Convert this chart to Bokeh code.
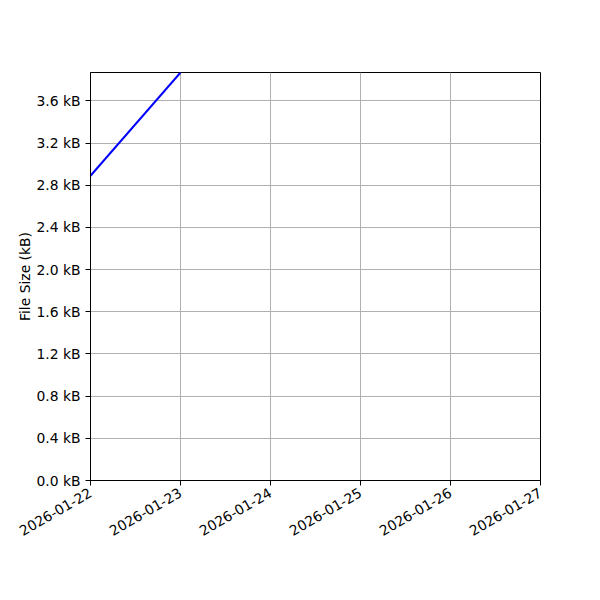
from datetime import datetime
from math import pi

from bokeh.embed import file_html
from bokeh.models import (ColumnDataSource, DatetimeTickFormatter, FixedTicker,
                          PrintfTickFormatter, Range1d)
from bokeh.plotting import figure
from bokeh.resources import INLINE

# data
dates = [datetime(2026, 1, 22), datetime(2026, 1, 23)]
sizes_kb = [2.89, 3.87]
day_ticks = [datetime(2026, 1, d) for d in range(22, 28)]
y_ticks = [0.0, 0.4, 0.8, 1.2, 1.6, 2.0, 2.4, 2.8, 3.2, 3.6]

source = ColumnDataSource(data=dict(date=dates, size=sizes_kb))

p = figure(width=584, height=584, x_axis_type='datetime',
           output_backend="svg", toolbar_location=None,
           x_range=Range1d(day_ticks[0], day_ticks[-1]),
           y_range=Range1d(0, max(sizes_kb)),
           min_border_left=90, min_border_right=44,
           min_border_top=72, min_border_bottom=104)

p.line('date', 'size', source=source, line_color='blue', line_width=2)

p.outline_line_color = 'black'
p.outline_line_width = 1
p.background_fill_color = 'white'
p.border_fill_color = 'white'

ms = [d.timestamp() * 1000 for d in day_ticks]
p.xaxis.ticker = FixedTicker(ticks=ms)
p.xaxis.formatter = DatetimeTickFormatter(days="%Y-%m-%d", months="%Y-%m-%d",
                                          hours="%Y-%m-%d")
p.xaxis.major_label_orientation = pi / 6
p.xaxis.major_label_standoff = 6
p.yaxis.ticker = FixedTicker(ticks=y_ticks)
p.yaxis.formatter = PrintfTickFormatter(format="%.1f kB")
p.yaxis.axis_label = 'File Size (kB)'
p.yaxis.axis_label_standoff = 0

for ax in (p.xaxis, p.yaxis):
    ax.major_tick_out = 5
    ax.major_tick_in = 0
    ax.minor_tick_out = 0
    ax.minor_tick_in = 0
    ax.axis_line_color = 'black'
    ax.major_tick_line_color = 'black'
    ax.major_label_text_font = 'DejaVu Sans'
    ax.major_label_text_font_size = '13.9px'
    ax.major_label_text_color = 'black'
    ax.axis_label_text_font = 'DejaVu Sans'
    ax.axis_label_text_font_size = '13.9px'
    ax.axis_label_text_font_style = 'normal'
    ax.axis_label_text_color = 'black'

p.grid.grid_line_color = '#b0b0b0'
p.grid.grid_line_width = 1

open("out.html", "w").write(file_html(p, INLINE))
